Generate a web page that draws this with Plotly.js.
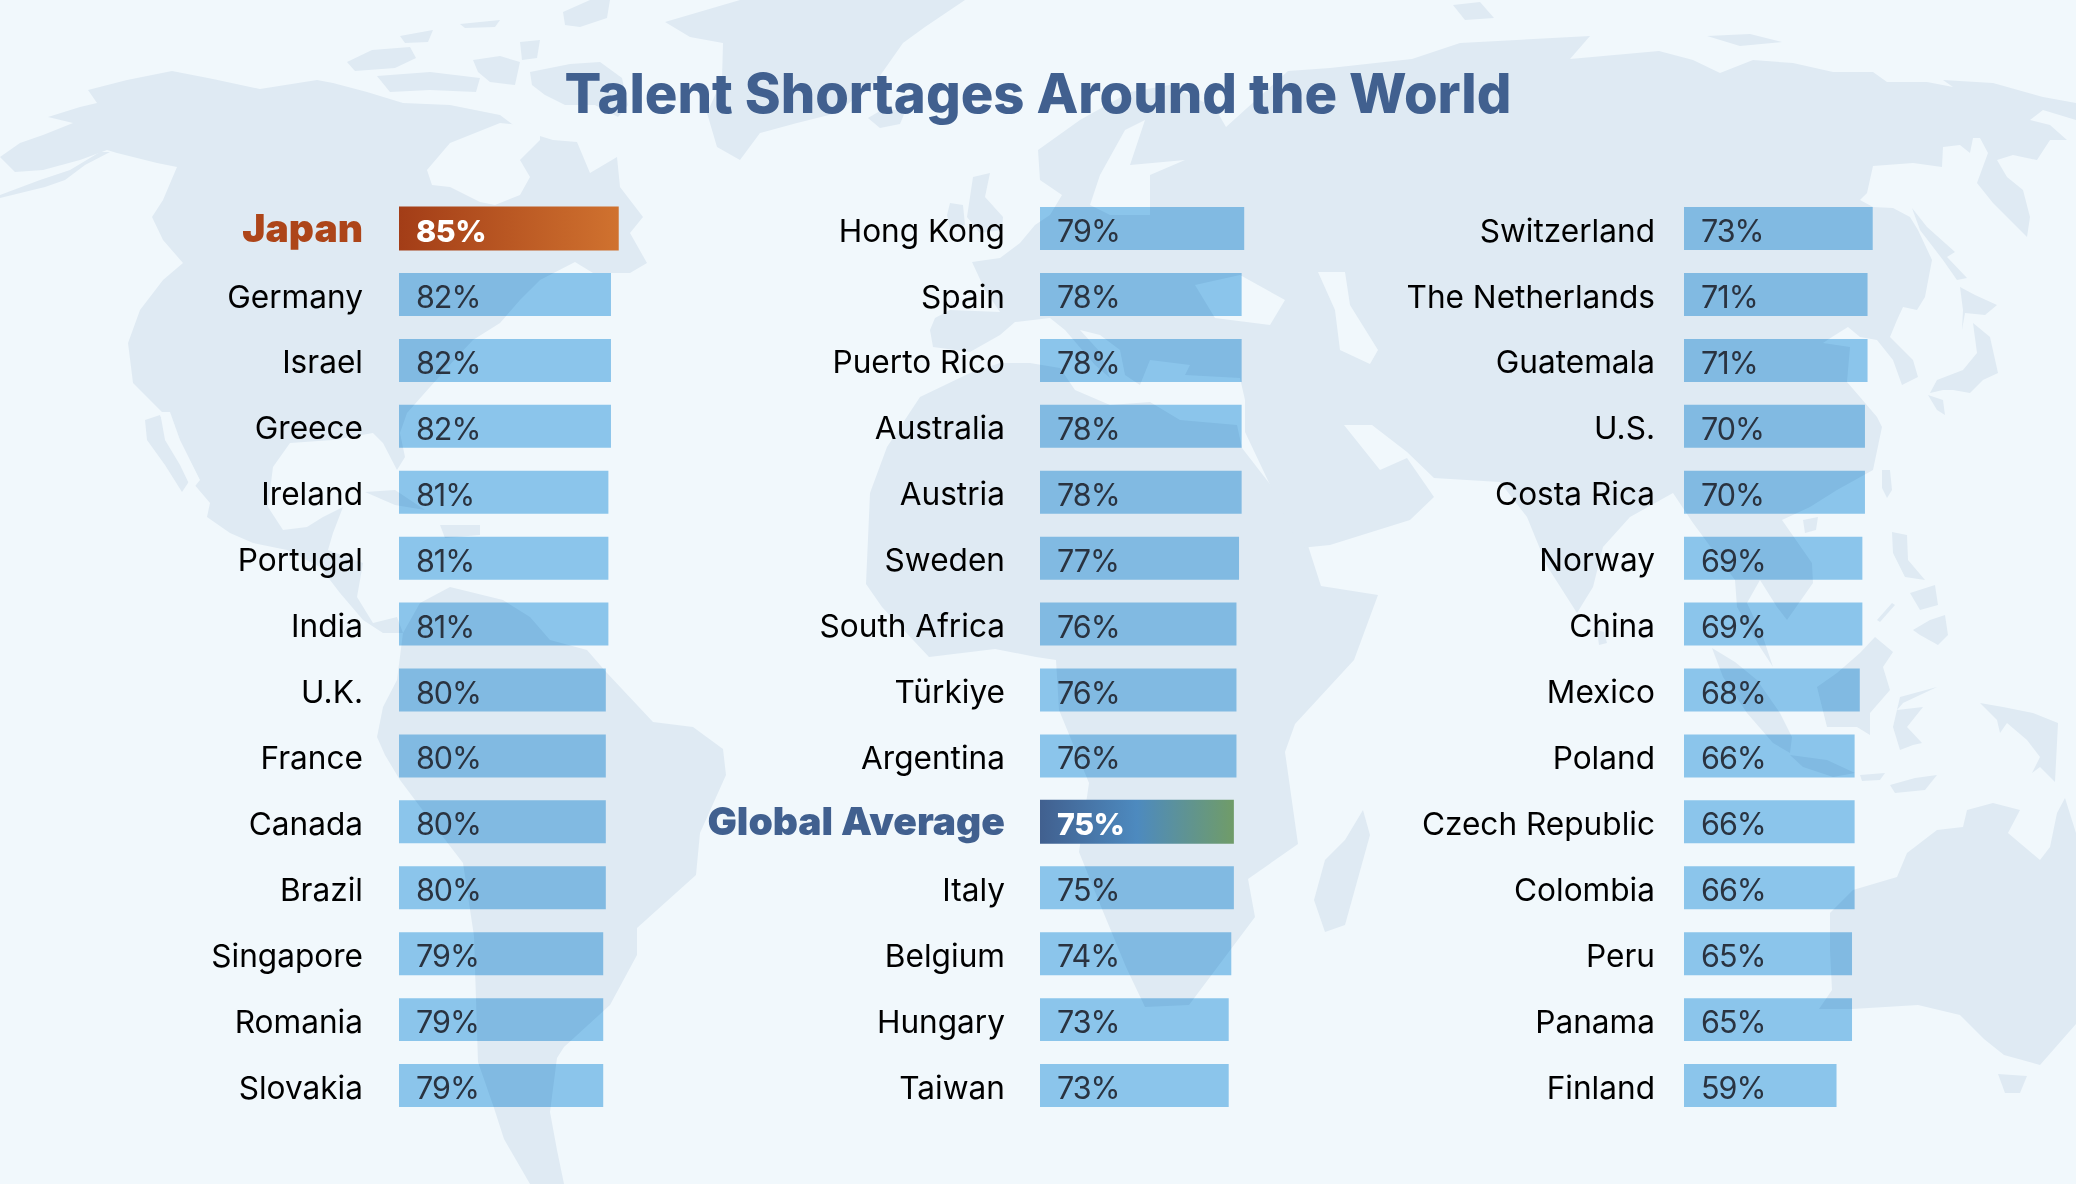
<!DOCTYPE html>
<html>
<head>
<meta charset="utf-8">
<script src="https://cdn.plot.ly/plotly-3.0.1.min.js"></script>
<style>
  html, body { margin: 0; padding: 0; background: #f1f8fc; }
  /* the map shows through the light bars */
  .bars .point path { mix-blend-mode: multiply; }
</style>
</head>
<body>
<div id="chart" style="width:2076px;height:1184px"></div>
<script>
// ------------------------------------------------------------------------------
// DATA

const col1_names  = ['Japan', 'Germany', 'Israel', 'Greece', 'Ireland', 'Portugal', 'India', 'U.K.', 'France', 'Canada', 'Brazil', 'Singapore', 'Romania', 'Slovakia'];
const col1_values = [85, 82, 82, 82, 81, 81, 81, 80, 80, 80, 80, 79, 79, 79];

const col2_names  = ['Hong Kong', 'Spain', 'Puerto Rico', 'Australia', 'Austria', 'Sweden', 'South Africa', 'Türkiye', 'Argentina', 'Global Average', 'Italy', 'Belgium', 'Hungary', 'Taiwan'];
const col2_values = [79, 78, 78, 78, 78, 77, 76, 76, 76, 75, 75, 74, 73, 73];

const col3_names  = ['Switzerland', 'The Netherlands', 'Guatemala', 'U.S.', 'Costa Rica', 'Norway', 'China', 'Mexico', 'Poland', 'Czech Republic', 'Colombia', 'Peru', 'Panama', 'Finland'];
const col3_values = [73, 71, 71, 70, 70, 69, 69, 68, 66, 66, 66, 65, 65, 59];

const highlight_colors = { 'Japan': '#ad4519', 'Global Average': '#41608f' };

// ------------------------------------------------------------------------------
// PARAMETERS

const W = 2076;
const H = 1184;
const font_family = 'Inter, "Noto Sans", sans-serif';
const bg_color    = '#f1f8fc';
const land_color  = '#dfeaf3';
const bar_color   = '#93cbee';
const title_color = '#41608f';

const bar_span  = 258.5;   // pixels for 0-100 %
const plot_top  = 195.6;
const plot_bot  = 1118.5;
const columns = [
    { names: col1_names, values: col1_values, left: 399,  standoff: 35 },
    { names: col2_names, values: col2_values, left: 1040, standoff: 34 },
    { names: col3_names, values: col3_values, left: 1684, standoff: 28 },
];

// ------------------------------------------------------------------------------
// BACKGROUND MAP (decoration, outlines in page pixels)

const land = [
    // North America
    [[0,157],[20,143],[43,135],[73,123],[48,117],[80,107],[97,103],[88,90],[127,80],[172,71],[213,79],[260,89],[317,80],[333,83],[367,92],[403,103],[450,105],[500,115],[520,130],[553,140],[577,142],[590,173],[617,157],[620,187],[643,217],[630,233],[647,263],[630,273],[593,273],[575,262],[540,280],[520,300],[500,323],[473,340],[457,357],[430,387],[407,413],[400,433],[405,457],[397,470],[383,443],[373,433],[333,440],[290,443],[273,467],[268,507],[283,530],[307,527],[323,517],[343,507],[333,533],[328,550],[363,563],[357,597],[373,623],[397,617],[403,633],[383,633],[363,620],[340,593],[320,567],[287,550],[253,543],[230,533],[207,517],[210,503],[193,483],[173,433],[165,415],[150,400],[133,383],[128,343],[140,310],[163,280],[183,263],[163,240],[152,217],[163,200],[177,167],[157,163],[117,153],[107,150],[80,160],[43,170],[15,172]],
    // Alaska peninsula
    [[0,195],[40,180],[70,170],[100,152],[110,152],[85,165],[65,180],[45,187],[0,198]],
    // Baja California
    [[145,420],[160,415],[172,445],[190,480],[182,492],[165,465],[147,440]],
    // Arctic islands
    [[347,62],[372,50],[410,47],[416,58],[395,68],[355,71]],
    [[377,76],[430,72],[480,78],[476,92],[430,90],[390,92]],
    [[400,36],[433,30],[428,42],[405,43]],
    [[460,24],[500,20],[495,27],[465,28]],
    [[473,60],[500,56],[520,62],[515,85],[490,82],[478,72]],
    [[563,12],[590,0],[610,0],[607,18],[580,27],[565,25]],
    [[520,42],[540,40],[537,58],[522,60]],
    [[530,72],[570,64],[600,62],[622,78],[628,105],[618,117],[595,105],[565,105],[545,95],[532,85]],
    // Greenland
    [[740,0],[665,22],[690,37],[723,43],[722,80],[707,113],[717,147],[740,160],[760,133],[797,123],[837,113],[877,80],[903,43],[925,27],[965,0]],
    // Iceland, Britain, Ireland
    [[868,118],[885,108],[905,112],[900,124],[880,128]],
    [[973,177],[990,173],[985,197],[1003,217],[1002,230],[980,233],[967,217]],
    [[950,203],[963,205],[965,225],[950,228],[947,215]],
    // South America
    [[420,603],[450,587],[503,600],[530,617],[550,640],[587,650],[607,673],[653,722],[693,727],[723,749],[726,775],[700,833],[696,875],[637,928],[637,955],[610,1005],[564,1047],[557,1058],[550,1112],[557,1150],[564,1184],[530,1184],[504,1139],[494,1108],[478,1062],[474,936],[463,863],[430,820],[400,780],[385,755],[377,737],[383,707],[397,680],[403,633]],
    // Africa
    [[920,397],[970,373],[1000,363],[1030,363],[1060,368],[1075,390],[1110,405],[1150,402],[1180,420],[1237,425],[1242,448],[1301,524],[1321,586],[1378,595],[1354,660],[1295,724],[1285,752],[1298,844],[1248,879],[1255,917],[1189,1005],[1145,1007],[1126,967],[1102,909],[1079,852],[1089,783],[1059,710],[1056,660],[1036,657],[995,649],[929,657],[882,607],[866,584],[870,493],[887,447]],
    // Madagascar
    [[1363,810],[1370,835],[1345,925],[1325,932],[1314,900],[1325,860],[1345,840]],
    // Eurasia
    [[930,330],[935,318],[950,310],[1000,312],[985,290],[972,262],[1000,258],[1020,243],[1035,225],[1050,215],[1062,195],[1040,180],[1038,150],[1080,120],[1130,92],[1170,85],[1215,108],[1226,127],[1288,71],[1330,68],[1412,59],[1460,43],[1590,36],[1570,59],[1659,51],[1693,60],[1720,73],[1753,60],[1793,63],[1833,72],[1873,72],[1887,82],[1927,82],[1953,87],[1943,80],[1993,83],[2043,97],[2076,103],[2076,120],[2043,110],[2030,120],[2050,125],[2067,140],[2050,140],[2037,160],[2013,155],[1997,160],[2007,177],[2023,190],[2030,217],[2027,237],[1993,203],[1977,183],[1988,153],[1980,138],[1973,138],[1970,153],[1960,145],[1943,147],[1942,167],[1913,163],[1873,166],[1867,193],[1860,200],[1873,207],[1893,208],[1910,217],[1918,230],[1932,260],[1925,297],[1917,310],[1903,307],[1897,320],[1890,337],[1913,360],[1918,377],[1902,385],[1893,360],[1877,340],[1860,337],[1848,327],[1832,337],[1823,343],[1850,347],[1847,382],[1860,397],[1877,417],[1882,427],[1873,470],[1837,490],[1810,507],[1782,520],[1812,563],[1813,583],[1787,620],[1777,607],[1760,580],[1747,603],[1763,637],[1773,667],[1760,647],[1737,607],[1735,580],[1693,523],[1673,493],[1630,517],[1603,547],[1593,587],[1577,613],[1547,566],[1527,517],[1500,482],[1434,478],[1407,452],[1372,425],[1344,425],[1380,470],[1407,458],[1434,497],[1410,520],[1330,545],[1300,548],[1245,432],[1245,400],[1240,378],[1185,375],[1190,365],[1150,360],[1140,385],[1125,375],[1120,350],[1100,335],[1080,330],[1100,352],[1110,378],[1095,365],[1065,330],[1050,318],[1015,322],[1000,335],[970,352],[933,347]],
    // Sumatra, Java, Borneo, Sulawesi
    [[1712,648],[1735,662],[1757,680],[1780,713],[1792,737],[1790,753],[1773,743],[1747,713],[1723,677]],
    [[1790,755],[1827,760],[1855,773],[1833,777],[1803,767]],
    [[1817,687],[1837,673],[1860,653],[1875,637],[1893,652],[1883,667],[1890,690],[1870,713],[1870,735],[1857,727],[1827,727]],
    [[1900,697],[1937,687],[1903,703],[1897,710],[1923,707],[1907,727],[1922,743],[1913,745],[1900,750],[1893,727]],
    // Philippines
    [[1892,532],[1907,535],[1908,560],[1925,580],[1905,577],[1893,553]],
    [[1910,593],[1935,585],[1938,605],[1920,610]],
    [[1913,630],[1930,620],[1945,615],[1948,635],[1938,645],[1920,635]],
    [[1877,620],[1892,603],[1895,605],[1880,622]],
    // Timor and small islands, New Guinea
    [[1890,785],[1915,778],[1937,775],[1925,790],[1895,793]],
    [[1860,775],[1885,773],[1880,780],[1862,781]],
    [[1980,703],[2003,707],[2033,713],[2058,723],[2055,782],[2040,767],[2032,773],[2040,757],[2027,740],[2007,723],[2000,733],[1997,720]],
    // Japan, Sakhalin, Hainan, Taiwan, Sri Lanka
    [[1930,393],[1937,380],[1963,370],[1977,353],[1973,323],[1990,337],[1998,373],[1983,380],[1970,393],[1953,390],[1943,390]],
    [[1928,395],[1943,400],[1945,415],[1937,410]],
    [[1960,287],[1975,295],[1997,305],[1985,315],[1965,313],[1962,330],[1963,310]],
    [[1912,208],[1927,227],[1955,252],[1947,257],[1967,278],[1957,280],[1943,260],[1920,230]],
    [[1803,520],[1818,517],[1816,530],[1805,533]],
    [[1882,470],[1890,470],[1892,490],[1887,498],[1882,488]],
    [[1597,630],[1604,632],[1607,643],[1599,645]],
    // Australia, Tasmania
    [[1830,913],[1853,890],[1897,877],[1907,853],[1937,830],[1963,827],[1967,810],[1993,803],[2020,810],[2008,833],[2040,860],[2050,847],[2057,813],[2065,798],[2076,833],[2076,1024],[2040,1065],[2004,1055],[1984,1039],[1960,1015],[1918,1005],[1852,1009],[1819,1009],[1832,990],[1830,950]],
    [[1998,1074],[2027,1076],[2020,1093],[2005,1093]],
    // Cuba, Hispaniola
    [[365,492],[395,490],[425,510],[395,505]],
    [[440,525],[480,525],[480,535],[445,538]],
    // Arctic Russia bits
    [[1453,5],[1480,2],[1494,18],[1465,20]],
    [[1707,36],[1750,34],[1782,42],[1740,46]],
];

const water = [
    // Hudson Bay
    [[427,170],[450,143],[500,123],[520,125],[540,130],[540,140],[520,160],[530,177],[520,195],[495,205],[480,202],[450,187],[432,185]],
    // Gulf of California
    [[160,412],[170,412],[180,440],[200,480],[192,490],[180,465],[165,440]],
    // Black Sea, Caspian, Baltic
    [[1195,285],[1240,275],[1285,300],[1270,325],[1215,318]],
    [[1318,272],[1345,272],[1350,305],[1378,350],[1370,364],[1340,350],[1335,310]],
    [[1110,215],[1090,205],[1100,175],[1125,130],[1145,120],[1130,165],[1185,160],[1150,175],[1150,215]],
];

function map_path(pts) {
    return 'M' + pts.map(p => (p[0] / W).toFixed(5) + ' ' + (1 - p[1] / H).toFixed(5)).join('L') + 'Z';
}

function map_shape(pts, color) {
    return {
        type: 'path', xref: 'paper', yref: 'paper', layer: 'below',
        path: map_path(pts), fillcolor: color, line: { width: 0 }
    };
}

const shapes = [{
    type: 'rect', xref: 'paper', yref: 'paper', layer: 'below',
    x0: 0, x1: 1, y0: 0, y1: 1, fillcolor: bg_color, line: { width: 0 }
}];
land.forEach(p => shapes.push(map_shape(p, land_color)));
water.forEach(p => shapes.push(map_shape(p, bg_color)));

// ------------------------------------------------------------------------------
// TRACES AND AXES

const traces = [];
const annotations = [];
const layout = {
    width: W,
    height: H,
    margin: { l: 0, r: 0, t: 0, b: 0 },
    paper_bgcolor: bg_color,
    plot_bgcolor: 'rgba(0,0,0,0)',
    showlegend: false,
    dragmode: false,
    font: { family: font_family, color: '#000000' },
    title: {
        text: 'Talent Shortages Around the World',
        x: 0.5, xanchor: 'center',
        y: 1 - 93.5 / H, yanchor: 'middle',
        font: { family: font_family, size: 54.4, weight: 800, color: title_color }
    },
    shapes: shapes,
    annotations: annotations,
};

function tick_label(name) {
    const color = highlight_colors[name];
    if (!color) return name;
    return '<span style="font-weight:900;font-size:39px;fill:' + color + '">' + name + '</span>';
}

function value_label(v, big) {
    return '<span style="letter-spacing:' + (big ? '-0.5px' : '-1px') + '">' + v + '%</span>';
}

columns.forEach((col, k) => {
    const n = k === 0 ? '' : String(k + 1);
    traces.push({
        type: 'bar',
        orientation: 'h',
        x: col.values,
        y: col.names,
        xaxis: 'x' + n,
        yaxis: 'y' + n,
        width: col.names.map(name => highlight_colors[name] ? 0.667 : 0.652),
        marker: { color: bar_color, line: { width: 0 } },
        cliponaxis: false,
        hoverinfo: 'none'
    });

    layout['xaxis' + n] = {
        domain: [col.left / W, (col.left + bar_span) / W],
        range: [0, 100],
        anchor: 'y' + n,
        visible: false,
        fixedrange: true
    };
    layout['yaxis' + n] = {
        domain: [1 - plot_bot / H, 1 - plot_top / H],
        anchor: 'x' + n,
        type: 'category',
        categoryorder: 'array',
        categoryarray: col.names,
        autorange: 'reversed',
        tickmode: 'array',
        tickvals: col.names,
        ticktext: col.names.map(tick_label),
        ticks: '',
        ticklabelstandoff: col.standoff,
        ticklabelshift: -2,
        showline: false,
        showgrid: false,
        zeroline: false,
        fixedrange: true,
        tickfont: { family: font_family, size: 31.6, color: '#000000' }
    };

    col.names.forEach((name, i) => {
        const big = !!highlight_colors[name];
        annotations.push({
            text: value_label(col.values[i], big),
            xref: 'x' + n,
            yref: 'y' + n,
            x: 0,
            y: name,
            xanchor: 'left',
            yanchor: 'middle',
            xshift: 15,
            yshift: -2,
            showarrow: false,
            font: {
                family: font_family,
                size: 30.5,
                weight: big ? 800 : 400,
                color: big ? '#ffffff' : '#2a3340'
            }
        });
    });
});

// ------------------------------------------------------------------------------
// DRAW

function add_gradient(svg, id, stops) {
    const ns = 'http://www.w3.org/2000/svg';
    let defs = svg.querySelector('defs');
    const grad = document.createElementNS(ns, 'linearGradient');
    grad.setAttribute('id', id);
    stops.forEach(s => {
        const st = document.createElementNS(ns, 'stop');
        st.setAttribute('offset', s[0]);
        st.setAttribute('stop-color', s[1]);
        grad.appendChild(st);
    });
    defs.appendChild(grad);
}

function paint_bar(subplot, index, id) {
    const groups = document.querySelectorAll('.subplot.' + subplot + ' .bars .point path');
    const bar = groups[index];
    bar.style.fill = 'url(#' + id + ')';
    bar.style.mixBlendMode = 'normal';
}

Plotly.newPlot('chart', traces, layout, { displayModeBar: false, staticPlot: true }).then(() => {
    const svg = document.querySelector('#chart .main-svg');
    add_gradient(svg, 'grad-japan', [[0, '#a33d17'], [1, '#d0722f']]);
    add_gradient(svg, 'grad-global', [[0, '#41608f'], [0.5, '#4d8abf'], [1, '#709c68']]);
    paint_bar('xy', col1_names.indexOf('Japan'), 'grad-japan');
    paint_bar('x2y2', col2_names.indexOf('Global Average'), 'grad-global');
});
</script>
</body>
</html>
